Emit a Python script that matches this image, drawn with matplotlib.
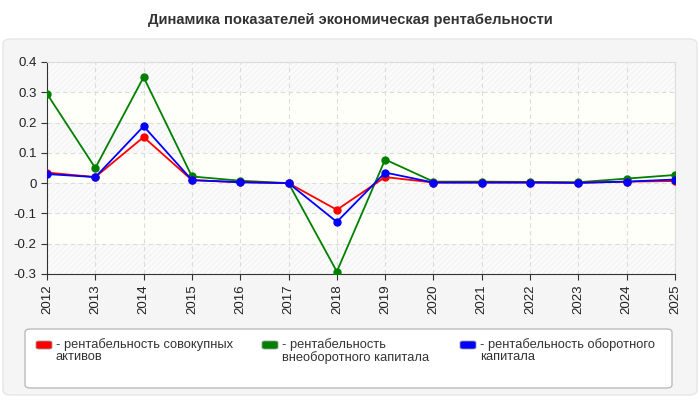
import matplotlib
matplotlib.use("Agg")
import matplotlib.pyplot as plt
from matplotlib.patches import FancyBboxPatch

plt.rcParams['font.family'] = ['Liberation Sans', 'DejaVu Sans']
plt.rcParams['hatch.linewidth'] = 0.6

years = ['2012', '2013', '2014', '2015', '2016', '2017', '2018',
         '2019', '2020', '2021', '2022', '2023', '2024', '2025']
total_assets = [0.035, 0.02, 0.152, 0.01, 0.003, 0.0, -0.088,
                0.02, 0.002, 0.002, 0.002, 0.001, 0.005, 0.007]
noncurrent = [0.295, 0.05, 0.35, 0.022, 0.008, 0.0, -0.292,
              0.078, 0.005, 0.005, 0.004, 0.003, 0.015, 0.027]
current = [0.03, 0.02, 0.188, 0.01, 0.003, 0.0, -0.128,
           0.035, 0.002, 0.002, 0.002, 0.001, 0.005, 0.012]
labels = ['- рентабельность совокупных\nактивов',
          '- рентабельность\nвнеоборотного капитала',
          '- рентабельность оборотного\nкапитала']
colors = ['#ff0000', '#008000', '#0000ff']
yticks = [-0.3, -0.2, -0.1, 0, 0.1, 0.2, 0.3, 0.4]

fig = plt.figure(figsize=(7, 4), dpi=100)
fig.patch.set_facecolor('white')

# outer grey panel
panel = FancyBboxPatch((3 / 700, 5 / 400), 694 / 700, 356 / 400,
                       boxstyle='round,pad=0,rounding_size=0.012',
                       transform=fig.transFigure, facecolor='#f5f5f5',
                       edgecolor='#e6e6e6', linewidth=1, zorder=-10)
fig.patches.append(panel)

fig.text(0.5, 1 - 20 / 400, 'Динамика показателей экономическая рентабельности',
         ha='center', va='center', fontsize=10.6, fontweight='bold', color='#333333')

ax = fig.add_axes([47 / 700, 1 - 274 / 400, 628 / 700, 212 / 400])
ax.set_facecolor('#fffffa')
x = list(range(len(years)))
ax.set_xlim(0, len(years) - 1)
ax.set_ylim(-0.3, 0.4)

# alternating hatched bands
for i in range(len(yticks) - 1):
    if i % 2 == 0:
        ax.axhspan(yticks[i], yticks[i + 1], facecolor='#fbfbfb', edgecolor='#f0f0f0',
                   hatch='//////', linewidth=0, zorder=0)

ax.grid(True, color='#dcdcdc', linestyle=(0, (4, 3)), linewidth=0.8, zorder=1)

for vals, c in zip([noncurrent, total_assets, current], [colors[1], colors[0], colors[2]]):
    ax.plot(x, vals, color=c, linewidth=1.3, marker='o', markersize=5, zorder=3)

ax.set_xticks(x)
ax.set_xticklabels(years, rotation=90, fontsize=9.5, color='#222222')
ax.set_yticks(yticks)
ax.set_yticklabels(['-0.3', '-0.2', '-0.1', '0', '0.1', '0.2', '0.3', '0.4'],
                   fontsize=9.5, color='#222222')
ax.tick_params(length=4, color='#333333')
for s in ['top', 'right']:
    ax.spines[s].set_color('#dddddd')
for s in ['left', 'bottom']:
    ax.spines[s].set_color('#333333')

# legend box
leg = FancyBboxPatch((25 / 700, 1 - 388 / 400), 647 / 700, 59 / 400,
                     boxstyle='round,pad=0,rounding_size=0.008',
                     transform=fig.transFigure, facecolor='white',
                     edgecolor='#bbbbbb', linewidth=1, zorder=1)
fig.patches.append(leg)

for px, lab, c in zip([36, 262, 460], labels, colors):
    sw = FancyBboxPatch((px / 700, 1 - 349 / 400), 16 / 700, 8 / 400,
                        boxstyle='round,pad=0,rounding_size=0.004',
                        transform=fig.transFigure, facecolor=c,
                        edgecolor='#999999', linewidth=0.6, zorder=2)
    fig.patches.append(sw)
    fig.text((px + 20) / 700, 1 - 338 / 400, lab, ha='left', va='top',
             fontsize=9.3, color='#333333', linespacing=1.0)

fig.savefig('out.png', dpi=100)
